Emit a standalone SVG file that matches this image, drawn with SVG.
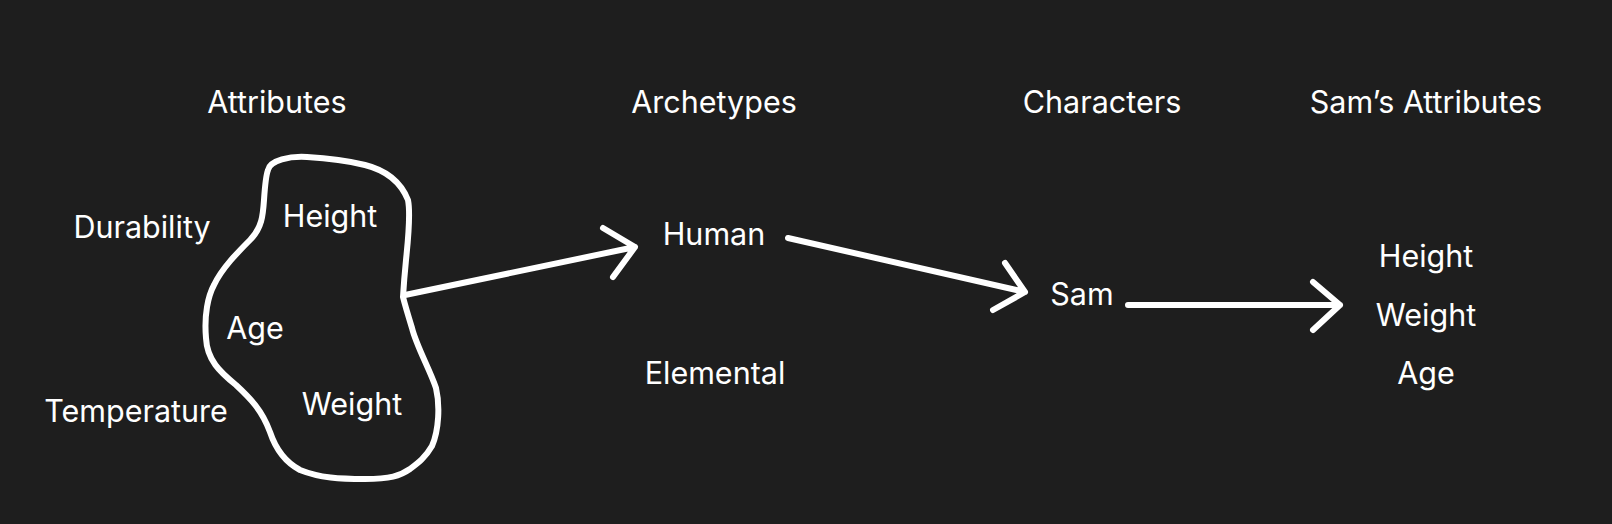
<svg xmlns="http://www.w3.org/2000/svg" width="1612" height="524" viewBox="0 0 1612 524">
<style>
text{font-family:Inter,"Noto Sans",sans-serif;font-size:30.5px;fill:#ffffff;text-anchor:middle}
.s{fill:none;stroke:#ffffff;stroke-width:6;stroke-linecap:round;stroke-linejoin:round}
</style>
<rect width="1612" height="524" fill="#1e1e1e"/>
<g id="titles">
<text x="277" y="113">Attributes</text>
<text x="714" y="113">Archetypes</text>
<text x="1102" y="113">Characters</text>
<text x="1426" y="113">Sam’s Attributes</text>
</g>
<g id="attributes">
<path class="s" d="M268,170 C270,160 290,156 307,157 C325,158 345,160 365,165 C385,170 400,180 408,200 C411,215 408,240 406,260 C404,280 403,297 403,297 C405,305 408,315 412,328 C416,345 430,370 436,388 C440,405 439,430 432,446 C425,458 418,463 410,469 C400,476 390,479 365,479 C340,479 320,478 300,470 C285,462 276,450 270,432 C262,410 250,398 236,385 C220,372 207,360 206,338 C204,315 208,296 214,285 C222,268 238,252 250,240 C262,228 263,215 264,200 C265,185 266,175 268,170 Z"/>
</g>
<g id="n-durability"><text x="142" y="238">Durability</text></g>
<g id="n-height"><text x="330" y="227">Height</text></g>
<g id="n-age"><text x="255" y="339">Age</text></g>
<g id="n-temperature"><text x="136" y="422">Temperature</text></g>
<g id="n-weight"><text x="352" y="415">Weight</text></g>
<g id="n-human"><text x="714" y="245">Human</text></g>
<g id="n-elemental"><text x="715" y="384">Elemental</text></g>
<g id="n-sam"><text x="1082" y="305">Sam</text></g>
<g id="n-sam-attrs">
<text x="1426" y="267">Height</text>
<text x="1426" y="326">Weight</text>
<text x="1426" y="384">Age</text>
</g>
<g id="connectors">
<path class="s" d="M405,295 L635,247 M603,228 L635,247 L613,277"/>
<path class="s" d="M788,238 L1025,292 M1005,263 L1025,292 L993,310"/>
<path class="s" d="M1128,305 L1340,305 M1313,282 L1340,305 L1313,330"/>
</g>
</svg>
